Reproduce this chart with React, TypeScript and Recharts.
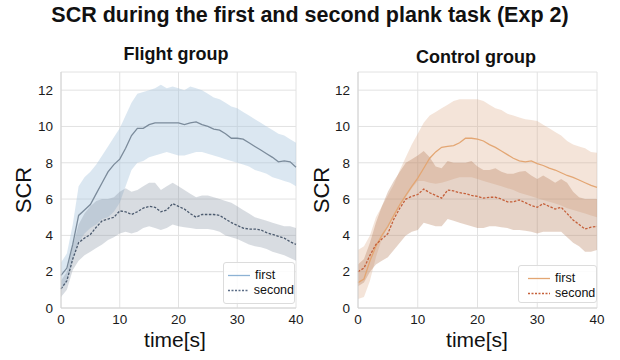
import React from 'react';
import { ComposedChart, Area, Line, XAxis, YAxis, CartesianGrid, Label } from 'recharts';

const FONT = '"Liberation Sans", Arial, Helvetica, sans-serif';

// time axis (s)
const seconds = [
  0, 1, 2, 3, 4, 5, 6, 7, 8, 9, 10, 11, 12, 13, 14, 15, 16, 17, 18, 19, 20,
  21, 22, 23, 24, 25, 26, 27, 28, 29, 30, 31, 32, 33, 34, 35, 36, 37, 38, 39, 40,
];
const xTicks = [0, 10, 20, 30, 40];
const yTicks = [0, 2, 4, 6, 8, 10, 12];

// Flight group
const flightFirst = [
  1.8, 2.2, 3.5, 5.1, 5.4, 5.7, 6.3, 6.9, 7.5, 7.9, 8.2, 8.8, 9.5, 9.9, 9.9, 10.1, 10.2, 10.2, 10.2, 10.2,
  10.2, 10.1, 10.2, 10.25, 10.1, 10.0, 9.85, 9.8, 9.6, 9.35, 9.35, 9.3, 9.1, 8.9, 8.7, 8.5, 8.3, 8.05, 8.1, 8.05, 7.75,
];
const flightFirstHi = [
  2.5, 3.0, 4.6, 6.7, 7.2, 7.5, 7.9, 8.4, 8.9, 9.4, 9.9, 10.6, 11.3, 11.8, 11.9, 12.0, 12.1, 12.3, 12.1, 12.2,
  12.1, 12.0, 12.2, 12.1, 12.0, 11.8, 11.6, 11.5, 11.3, 11.1, 11.0, 10.8, 10.6, 10.4, 10.2, 10.0, 9.8, 9.6, 9.5, 9.3, 9.1,
];
const flightFirstLo = [
  1.0, 1.4, 2.6, 3.6, 4.1, 4.4, 4.6, 4.9, 5.0, 5.3, 5.8, 6.7, 7.6, 8.0, 8.1, 8.3, 8.4, 8.5, 8.6, 8.5,
  8.4, 8.4, 8.5, 8.6, 8.6, 8.5, 8.4, 8.3, 8.2, 8.1, 8.0, 7.9, 7.8, 7.6, 7.5, 7.4, 7.2, 7.1, 7.0, 6.9, 6.7,
];
const flightSecond = [
  1.05, 1.5, 2.7, 3.6, 3.85, 4.05, 4.45, 4.8, 4.9, 5.0, 5.35, 5.3, 5.15, 5.3, 5.5, 5.6, 5.55, 5.3, 5.4, 5.75,
  5.6, 5.45, 5.2, 5.0, 5.15, 5.15, 5.15, 5.1, 4.9, 4.7, 4.55, 4.4, 4.35, 4.35, 4.3, 4.15, 4.05, 3.95, 3.85, 3.65, 3.5,
];
const flightSecondHi = [
  1.5, 2.0, 3.4, 4.6, 5.2, 5.6, 5.9, 6.0, 6.0, 6.1, 6.4, 6.6, 6.4, 6.5, 6.7, 6.9, 6.9, 6.5, 6.7, 6.9,
  6.7, 6.5, 6.3, 6.1, 6.2, 6.2, 6.1, 6.0, 5.9, 5.8, 5.6, 5.4, 5.2, 5.0, 4.9, 4.8, 4.7, 4.6, 4.5, 4.5, 4.4,
];
const flightSecondLo = [
  0.6, 1.0, 2.1, 2.6, 2.9, 3.1, 3.3, 3.5, 3.75, 3.9, 4.1, 4.2, 4.1, 4.2, 4.4, 4.5, 4.4, 4.3, 4.4, 4.6,
  4.5, 4.45, 4.4, 4.35, 4.35, 4.35, 4.3, 4.2, 4.0, 3.9, 3.8, 3.65, 3.5, 3.4, 3.35, 3.25, 3.1, 3.0, 2.9, 2.75, 2.6,
];

// Control group
const controlFirst = [
  1.4, 1.6, 2.6, 3.4, 4.0, 4.5, 5.1, 5.7, 6.2, 6.7, 7.15, 7.7, 8.25, 8.6, 8.85, 8.9, 8.95, 9.1, 9.35, 9.35,
  9.3, 9.2, 9.0, 8.85, 8.65, 8.45, 8.25, 8.1, 8.05, 8.1, 7.95, 7.85, 7.7, 7.6, 7.45, 7.3, 7.2, 7.05, 6.9, 6.75, 6.65,
];
const controlFirstHi = [
  3.2, 3.4, 4.0, 5.0, 5.6, 6.2, 6.8, 7.6, 8.3, 9.0, 9.6, 10.2, 10.6, 10.8, 11.0, 11.2, 11.4, 11.5, 11.5, 11.5,
  11.5, 11.4, 11.2, 11.0, 10.9, 10.7, 10.6, 10.5, 10.4, 10.35, 10.3, 10.1, 9.9, 9.7, 9.5, 9.2, 9.0, 8.9, 8.8, 8.6, 8.55,
];
const controlFirstLo = [
  0.5, 0.6, 1.5, 2.8, 3.8, 4.5, 5.1, 5.6, 6.1, 6.6, 7.0, 7.0, 6.9, 6.85, 6.9, 7.0, 7.1, 7.2, 7.2, 7.2,
  7.1, 7.0, 6.9, 6.8, 6.7, 6.6, 6.5, 6.35, 6.25, 6.15, 6.05, 5.95, 5.85, 5.75, 5.65, 5.5, 5.4, 5.3, 5.2, 5.1, 5.0,
];
const controlSecond = [
  2.0, 2.2, 2.9, 3.5, 3.8, 4.1, 4.9, 5.5, 6.0, 6.15, 6.25, 6.55, 6.35, 6.2, 6.05, 6.5, 6.45, 6.35, 6.3, 6.2,
  6.15, 6.05, 6.1, 6.1, 6.0, 5.85, 5.85, 5.95, 5.8, 5.65, 5.55, 5.75, 5.6, 5.45, 5.55, 5.2, 4.85, 4.6, 4.35, 4.45, 4.5,
];
const controlSecondHi = [
  2.4, 2.7, 3.6, 4.7, 5.6, 6.4, 7.0, 7.5, 8.0, 8.2, 8.4, 8.65, 8.3, 7.8, 7.7, 8.1, 8.0, 8.0, 8.0, 8.1,
  7.8, 7.6, 7.6, 7.7, 7.5, 7.4, 7.4, 7.5, 7.55, 7.3, 7.1, 7.3, 7.1, 6.9, 7.1, 6.9, 6.4, 6.1, 6.0, 6.0, 6.0,
];
const controlSecondLo = [
  1.2, 1.4, 2.0, 2.4, 2.6, 2.8, 3.2, 3.6, 4.0, 4.2, 4.3, 4.7, 4.6, 4.5, 4.5, 4.9, 4.8, 4.7, 4.6, 4.5,
  4.4, 4.4, 4.5, 4.5, 4.45, 4.4, 4.3, 4.3, 4.25, 4.2, 4.1, 4.2, 4.2, 4.2, 4.2, 3.9, 3.6, 3.4, 3.1, 3.1, 3.2,
];

type Row = { t: number; first: number; second: number; firstBand: [number, number]; secondBand: [number, number] };

const buildRows = (f: number[], fLo: number[], fHi: number[], s: number[], sLo: number[], sHi: number[]): Row[] =>
  seconds.map((t, i) => ({
    t,
    first: f[i],
    second: s[i],
    firstBand: [fLo[i], fHi[i]],
    secondBand: [sLo[i], sHi[i]],
  }));

const flightData = buildRows(flightFirst, flightFirstLo, flightFirstHi, flightSecond, flightSecondLo, flightSecondHi);
const controlData = buildRows(controlFirst, controlFirstLo, controlFirstHi, controlSecond, controlSecondLo, controlSecondHi);

interface PanelProps {
  data: Row[];
  left: number;
  yAxisWidth: number;
  marginRight: number;
  firstFill: string;
  firstFillOpacity: number;
  secondFill: string;
  secondFillOpacity: number;
  firstStroke: string;
  secondStroke: string;
  yLabelX: number;
  xLabelX: number;
}

function Panel(p: PanelProps) {
  return (
    <div style={{ position: 'absolute', left: p.left, top: 0 }}>
      <ComposedChart
        width={310}
        height={360}
        data={p.data}
        margin={{ top: 72, right: p.marginRight, left: 0, bottom: 0 }}
      >
        <CartesianGrid stroke='#e2e2e2' strokeWidth={1} />
        <XAxis
          dataKey='t'
          type='number'
          domain={[0, 40]}
          ticks={xTicks}
          height={52}
          tickLine={false}
          tickSize={4}
          axisLine={{ stroke: '#d4d4d4' }}
          tick={{ fill: '#1a1a1a', fontSize: 13.5, fontFamily: FONT }}
        >
          <Label
            content={() => (
              <text x={p.xLabelX} y={347} textAnchor='middle' fontSize={21} fontFamily={FONT} fill='#111'>
                time[s]
              </text>
            )}
          />
        </XAxis>
        <YAxis
          type='number'
          domain={[0, 13]}
          ticks={yTicks}
          width={p.yAxisWidth}
          tickLine={false}
          axisLine={{ stroke: '#d4d4d4' }}
          tick={{ fill: '#1a1a1a', fontSize: 13.5, fontFamily: FONT }}
        >
          <Label
            content={() => (
              <text
                x={p.yLabelX}
                y={190}
                transform={`rotate(-90 ${p.yLabelX} 190)`}
                textAnchor='middle'
                dominantBaseline='central'
                fontSize={22}
                fontFamily={FONT}
                fill='#111'
              >
                SCR
              </text>
            )}
          />
        </YAxis>
        <Area
          dataKey='firstBand'
          type='linear'
          stroke='none'
          fill={p.firstFill}
          fillOpacity={p.firstFillOpacity}
          isAnimationActive={false}
        />
        <Area
          dataKey='secondBand'
          type='linear'
          stroke='none'
          fill={p.secondFill}
          fillOpacity={p.secondFillOpacity}
          isAnimationActive={false}
        />
        <Line
          dataKey='first'
          type='linear'
          stroke={p.firstStroke}
          strokeWidth={1.3}
          dot={false}
          isAnimationActive={false}
        />
        <Line
          dataKey='second'
          type='linear'
          stroke={p.secondStroke}
          strokeWidth={1.3}
          strokeDasharray='2.5 1.5'
          dot={false}
          isAnimationActive={false}
        />
      </ComposedChart>
    </div>
  );
}

function LegendBox({
  left,
  top,
  width,
  height,
  padLeft,
  firstColor,
  secondColor,
}: {
  left: number;
  top: number;
  width: number;
  height: number;
  padLeft: number;
  firstColor: string;
  secondColor: string;
}) {
  const row = (label: string, color: string, dashed: boolean) => (
    <div style={{ display: 'flex', alignItems: 'center', height: 15 }}>
      <svg width={22} height={15} style={{ marginRight: 5 }}>
        <line
          x1={0}
          x2={22}
          y1={7.5}
          y2={7.5}
          stroke={color}
          strokeWidth={1.3}
          strokeDasharray={dashed ? '2 1.5' : undefined}
        />
      </svg>
      <span>{label}</span>
    </div>
  );
  return (
    <div
      style={{
        position: 'absolute',
        left,
        top,
        width,
        height,
        boxSizing: 'border-box',
        border: '1px solid #dcdcdc',
        borderRadius: 3,
        background: 'rgba(255,255,255,0.85)',
        paddingLeft: padLeft,
        paddingTop: 5,
        fontFamily: FONT,
        fontSize: 12.5,
        color: '#111',
        lineHeight: '15px',
      }}
    >
      {row('first', firstColor, false)}
      {row('second', secondColor, true)}
    </div>
  );
}

export default function App() {
  return (
    <div
      style={{
        position: 'absolute',
        left: 0,
        top: 0,
        width: 620,
        height: 360,
        background: '#fff',
        fontFamily: FONT,
        overflow: 'hidden',
      }}
    >
      <div
        style={{
          position: 'absolute',
          left: 0,
          top: 3,
          width: 620,
          textAlign: 'center',
          fontSize: 21.5,
          fontWeight: 700,
          color: '#111',
        }}
      >
        SCR during the first and second plank task (Exp 2)
      </div>
      <div style={{ position: 'absolute', left: 76, top: 44, width: 200, textAlign: 'center', fontSize: 18, fontWeight: 700, color: '#111' }}>
        Flight group
      </div>
      <div style={{ position: 'absolute', left: 376, top: 47, width: 200, textAlign: 'center', fontSize: 18, fontWeight: 700, color: '#111' }}>
        Control group
      </div>

      <Panel
        data={flightData}
        left={0}
        yAxisWidth={61}
        marginRight={14}
        firstFill='#a9c6de'
        firstFillOpacity={0.42}
        secondFill='#7d8a9c'
        secondFillOpacity={0.3}
        firstStroke='#7b8b9b'
        secondStroke='#4b5a6e'
        yLabelX={23}
        xLabelX={175}
      />
      <Panel
        data={controlData}
        left={310}
        yAxisWidth={48}
        marginRight={23}
        firstFill='#dcaa88'
        firstFillOpacity={0.32}
        secondFill='#b8805f'
        secondFillOpacity={0.35}
        firstStroke='#e3a673'
        secondStroke='#c5603a'
        yLabelX={11}
        xLabelX={167}
      />

      <LegendBox left={223} top={262} width={72} height={42} padLeft={4} firstColor='#8db2d4' secondColor='#5b6d86' />
      <LegendBox left={518} top={265} width={79} height={38} padLeft={9} firstColor='#e3a673' secondColor='#c5603a' />
    </div>
  );
}
